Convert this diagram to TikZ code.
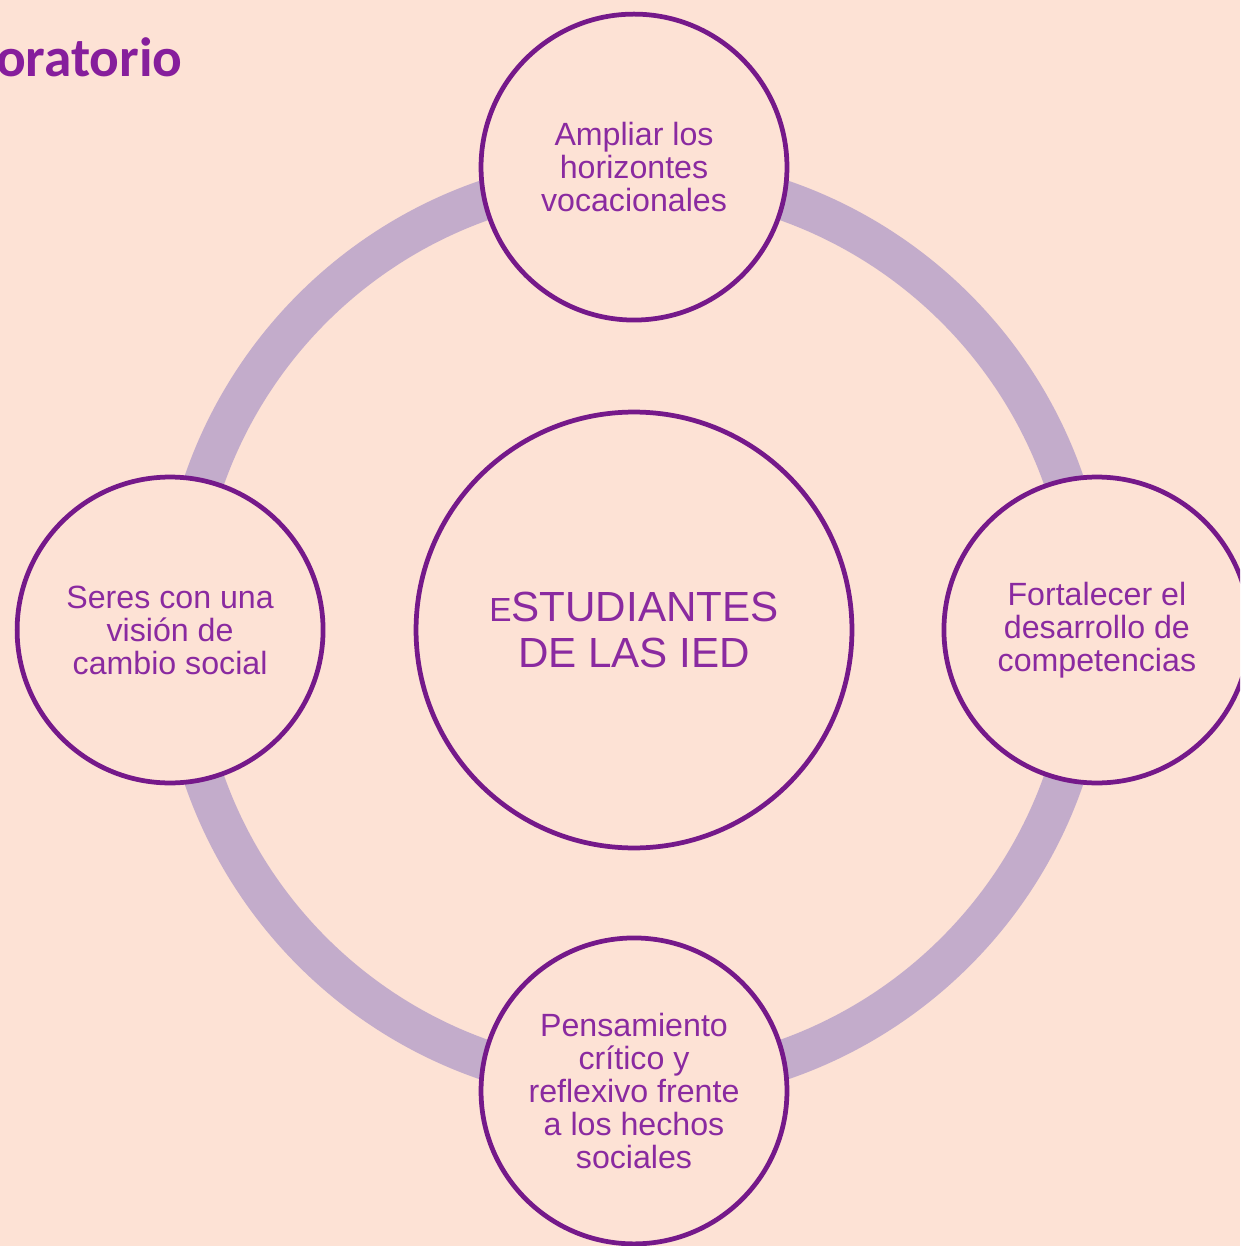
\documentclass[tikz,border=0pt]{standalone}
\usepackage{fontspec}
\setmainfont{Liberation Sans}
\newfontfamily\titlefont{Carlito}
\usetikzlibrary{positioning,backgrounds}
\definecolor{fondo}{HTML}{FDE2D5}
\definecolor{anillo}{HTML}{C3ACCB}
\definecolor{borde}{HTML}{75198A}
\definecolor{letra}{HTML}{8A2AA0}
\definecolor{titulo}{HTML}{861E9C}
\tikzset{
  meta/.style={circle, draw=borde, line width=0.095cm, fill=fondo, minimum size=6.12cm,
    inner sep=0pt, align=center, text=letra, font=\fontsize{18.3}{18.8}\selectfont},
  hub/.style={meta, minimum size=8.72cm, font=\fontsize{24}{26}\selectfont},
  ring/.style={draw=anillo, line width=0.8cm}
}
\begin{document}
\begin{tikzpicture}[x=0.02cm, y=-0.02cm]
				% page
				\clip (0,0) rectangle (1240,1246);
				\fill[fondo] (0,0) rectangle (1240,1246);

				% title (cut at the left edge)
				\node[anchor=base east, text=titulo, inner sep=0pt,
					font=\titlefont\bfseries\fontsize{31.5}{32}\selectfont] (titulo) at (183,77) {oratorio};

				% ring behind the circles
				\coordinate (mid) at (634,630);
				\draw[ring] (mid) circle[radius=9.1cm];

				% centre
				\node[hub] (estudiantes) at (mid) {{\fontsize{19}{26}\selectfont E}STUDIANTES\\DE LAS IED};

				% outer circles
				\node[meta] (ampliar) at ([shift={(90:9.26cm)}]mid) {Ampliar los\\horizontes\\vocacionales};
				\node[meta] (fortalecer) at ([shift={(0:9.26cm)}]mid) {Fortalecer el\\desarrollo de\\competencias};
				\node[meta] (pensamiento) at ([shift={(-90:9.22cm)}]mid) {Pensamiento\\crítico y\\reflexivo frente\\a los hechos\\sociales};
				\node[meta] (seres) at ([shift={(180:9.28cm)}]mid) {Seres con una\\visión de\\cambio social};
			\end{tikzpicture}
\end{document}
